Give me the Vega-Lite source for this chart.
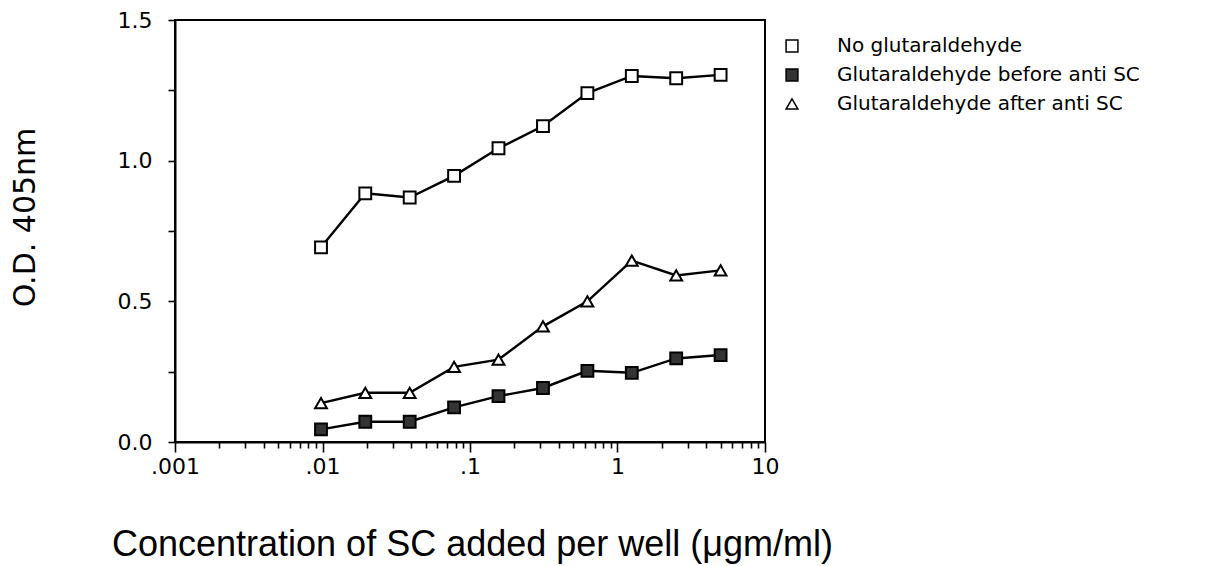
{
  "$schema": "https://vega.github.io/schema/vega-lite/v6.json",
  "autosize": {"type": "none"},
  "width": 590,
  "height": 422,
  "padding": {"left": 175, "top": 20, "right": 441, "bottom": 124},
  "background": "white",
  "config": {
    "view": {"stroke": "black", "strokeWidth": 2},
    "axis": {"grid": false, "domainColor": "black", "domainWidth": 2, "tickColor": "black", "tickWidth": 1.6, "labelColor": "black", "titleColor": "black"}
  },
  "data": {
    "values": [
      {"conc": 0.00977, "series": "No glutaraldehyde", "od": 0.692},
      {"conc": 0.0195, "series": "No glutaraldehyde", "od": 0.884},
      {"conc": 0.039, "series": "No glutaraldehyde", "od": 0.869},
      {"conc": 0.078, "series": "No glutaraldehyde", "od": 0.946},
      {"conc": 0.156, "series": "No glutaraldehyde", "od": 1.044},
      {"conc": 0.3125, "series": "No glutaraldehyde", "od": 1.123},
      {"conc": 0.625, "series": "No glutaraldehyde", "od": 1.240},
      {"conc": 1.25, "series": "No glutaraldehyde", "od": 1.301},
      {"conc": 2.5, "series": "No glutaraldehyde", "od": 1.293},
      {"conc": 5.0, "series": "No glutaraldehyde", "od": 1.305},
      {"conc": 0.00977, "series": "Glutaraldehyde before anti SC", "od": 0.045},
      {"conc": 0.0195, "series": "Glutaraldehyde before anti SC", "od": 0.072},
      {"conc": 0.039, "series": "Glutaraldehyde before anti SC", "od": 0.072},
      {"conc": 0.078, "series": "Glutaraldehyde before anti SC", "od": 0.123},
      {"conc": 0.156, "series": "Glutaraldehyde before anti SC", "od": 0.163},
      {"conc": 0.3125, "series": "Glutaraldehyde before anti SC", "od": 0.192},
      {"conc": 0.625, "series": "Glutaraldehyde before anti SC", "od": 0.253},
      {"conc": 1.25, "series": "Glutaraldehyde before anti SC", "od": 0.246},
      {"conc": 2.5, "series": "Glutaraldehyde before anti SC", "od": 0.297},
      {"conc": 5.0, "series": "Glutaraldehyde before anti SC", "od": 0.309},
      {"conc": 0.00977, "series": "Glutaraldehyde after anti SC", "od": 0.138},
      {"conc": 0.0195, "series": "Glutaraldehyde after anti SC", "od": 0.175},
      {"conc": 0.039, "series": "Glutaraldehyde after anti SC", "od": 0.175},
      {"conc": 0.078, "series": "Glutaraldehyde after anti SC", "od": 0.267},
      {"conc": 0.156, "series": "Glutaraldehyde after anti SC", "od": 0.293},
      {"conc": 0.3125, "series": "Glutaraldehyde after anti SC", "od": 0.411},
      {"conc": 0.625, "series": "Glutaraldehyde after anti SC", "od": 0.500},
      {"conc": 1.25, "series": "Glutaraldehyde after anti SC", "od": 0.645},
      {"conc": 2.5, "series": "Glutaraldehyde after anti SC", "od": 0.592},
      {"conc": 5.0, "series": "Glutaraldehyde after anti SC", "od": 0.610}
    ]
  },
  "encoding": {
    "x": {
      "field": "conc", "type": "quantitative",
      "scale": {"type": "log", "domain": [0.001, 10], "nice": false},
      "axis": {
        "title": "Concentration of SC added per well (μgm/ml)",
        "titleFont": "Liberation Sans", "titleFontSize": 36, "titleFontWeight": "normal",
        "titleX": 297, "titleY": 113, "titleBaseline": "alphabetic", "titleAnchor": "middle",
        "values": [0.001,0.002,0.003,0.004,0.005,0.006,0.007,0.008,0.009,0.01,0.02,0.03,0.04,0.05,0.06,0.07,0.08,0.09,0.1,0.2,0.3,0.4,0.5,0.6,0.7,0.8,0.9,1,2,3,4,5,6,7,8,9,10],
        "labelExpr": "datum.value == 0.001 ? '.001' : datum.value == 0.01 ? '.01' : datum.value == 0.1 ? '.1' : datum.value == 1 ? '1' : datum.value == 10 ? '10' : ''",
        "labelFont": "DejaVu Sans", "labelFontSize": 22, "labelPadding": 4,
        "labelOverlap": false, "labelFlush": false,
        "tickSize": {"condition": {"test": "datum.value == 0.001 || datum.value == 0.01 || datum.value == 0.1 || datum.value == 1 || datum.value == 10", "value": 10}, "value": 6}
      }
    },
    "y": {
      "field": "od", "type": "quantitative",
      "scale": {"domain": [0, 1.5], "nice": false, "zero": true},
      "axis": {
        "title": "O.D. 405nm",
        "titleFont": "DejaVu Sans", "titleFontSize": 30, "titleFontWeight": "normal",
        "titleX": -150, "titleY": 197, "titleAngle": -90, "titleAlign": "center", "titleBaseline": "middle",
        "values": [0, 0.25, 0.5, 0.75, 1, 1.25, 1.5],
        "labelExpr": "(datum.value * 2) % 1 == 0 ? format(datum.value, '.1f') : ''",
        "labelFont": "DejaVu Sans", "labelFontSize": 22, "labelPadding": 16,
        "tickSize": 7, "labelFlush": false, "labelOverlap": false
      }
    }
  },
  "layer": [
    {
      "mark": {"type": "line", "color": "black", "strokeWidth": 2.4},
      "encoding": {"detail": {"field": "series", "type": "nominal"}}
    },
    {
      "mark": {"type": "point", "filled": true, "stroke": "black", "strokeWidth": 2, "size": 140, "opacity": 1},
      "encoding": {
        "shape": {
          "field": "series", "type": "nominal",
          "scale": {"domain": ["No glutaraldehyde", "Glutaraldehyde before anti SC", "Glutaraldehyde after anti SC"], "range": ["square", "square", "triangle-up"]},
          "legend": {
            "title": null, "orient": "none", "legendX": 607, "legendY": 16, "padding": 0,
            "labelFont": "DejaVu Sans", "labelFontSize": 20, "labelColor": "black", "labelLimit": 0,
            "symbolSize": 140, "labelOffset": 35, "rowPadding": 9,
            "encode": {
              "symbols": {
                "fill": {"signal": "datum.value == 'Glutaraldehyde before anti SC' ? '#333333' : 'white'"},
                "stroke": {"value": "black"},
                "strokeWidth": {"value": 1.8},
                "opacity": {"value": 1}
              }
            }
          }
        },
        "fill": {
          "field": "series", "type": "nominal",
          "scale": {"domain": ["No glutaraldehyde", "Glutaraldehyde before anti SC", "Glutaraldehyde after anti SC"], "range": ["white", "#333333", "white"]},
          "legend": null
        }
      }
    }
  ]
}
